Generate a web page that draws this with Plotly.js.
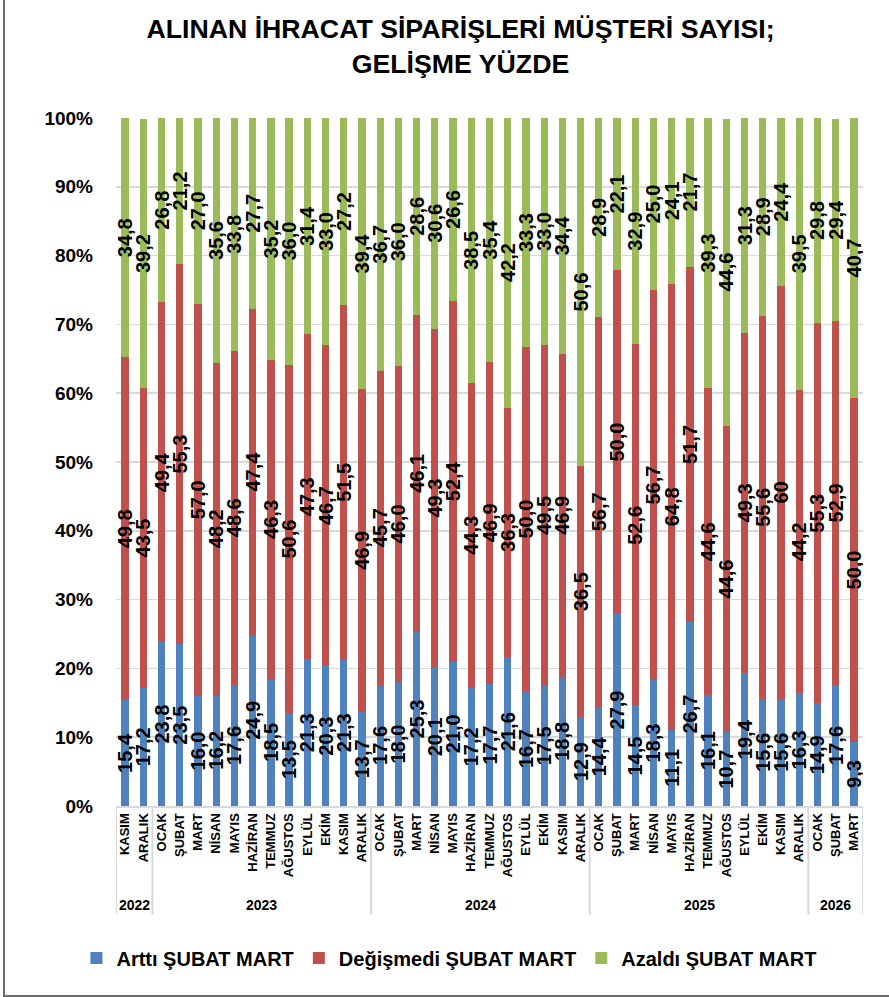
<!DOCTYPE html>
<html>
<head>
<meta charset="utf-8">
<script src="https://cdn.plot.ly/plotly-3.0.1.min.js"></script>
<style>
  html, body { margin: 0; padding: 0; background: #fff; overflow: hidden; }
  #wrap { position: relative; width: 889px; height: 997px; overflow: hidden; }
  #chart { width: 889px; height: 997px; }
  #frame { position: absolute; left: 3px; top: -10px; width: 1000px; height: 1007px;
           box-sizing: border-box; border: 2px solid #6b6b6b; border-right: none; border-top: none;
           pointer-events: none; }
</style>
</head>
<body>
<div id="wrap">
  <div id="chart"></div>
  <div id="frame"></div>
</div>
<script>
// ---- DATA ----
const years = [
  '2022','2022',
  '2023','2023','2023','2023','2023','2023','2023','2023','2023','2023','2023','2023',
  '2024','2024','2024','2024','2024','2024','2024','2024','2024','2024','2024','2024',
  '2025','2025','2025','2025','2025','2025','2025','2025','2025','2025','2025','2025',
  '2026','2026','2026'
];
const months = [
  'KASIM','ARALIK',
  'OCAK','ŞUBAT','MART','NİSAN','MAYIS','HAZİRAN','TEMMUZ','AĞUSTOS','EYLÜL','EKİM','KASIM','ARALIK',
  'OCAK','ŞUBAT','MART','NİSAN','MAYIS','HAZİRAN','TEMMUZ','AĞUSTOS','EYLÜL','EKİM','KASIM','ARALIK',
  'OCAK','ŞUBAT','MART','NİSAN','MAYIS','HAZİRAN','TEMMUZ','AĞUSTOS','EYLÜL','EKİM','KASIM','ARALIK',
  'OCAK','ŞUBAT','MART'
];
const artti = [
  15.4, 17.2,
  23.8, 23.5, 16.0, 16.2, 17.6, 24.9, 18.5, 13.5, 21.3, 20.3, 21.3, 13.7,
  17.6, 18.0, 25.3, 20.1, 21.0, 17.2, 17.7, 21.6, 16.7, 17.5, 18.8, 12.9,
  14.4, 27.9, 14.5, 18.3, 11.1, 26.7, 16.1, 10.7, 19.4, 15.6, 15.6, 16.3,
  14.9, 17.6, 9.3
];
const degismedi = [
  49.8, 43.5,
  49.4, 55.3, 57.0, 48.2, 48.6, 47.4, 46.3, 50.6, 47.3, 46.7, 51.5, 46.9,
  45.7, 46.0, 46.1, 49.3, 52.4, 44.3, 46.9, 36.3, 50.0, 49.5, 46.9, 36.5,
  56.7, 50.0, 52.6, 56.7, 64.8, 51.7, 44.6, 44.6, 49.3, 55.6, 60, 44.2,
  55.3, 52.9, 50.0
];
const azaldi = [
  34.8, 39.2,
  26.8, 21.2, 27.0, 35.6, 33.8, 27.7, 35.2, 36.0, 31.4, 33.0, 27.2, 39.4,
  36.7, 36.0, 28.6, 30.6, 26.6, 38.5, 35.4, 42.2, 33.3, 33.0, 34.4, 50.6,
  28.9, 22.1, 32.9, 25.0, 24.1, 21.7, 39.3, 44.6, 31.3, 28.9, 24.4, 39.5,
  29.8, 29.4, 40.7
];
// labels shown without a decimal in the source chart (index in series)
const integerLabelsDegismedi = [36];
const seriesNames = ['Arttı ŞUBAT MART', 'Değişmedi ŞUBAT MART', 'Azaldı ŞUBAT MART'];
const colors = ['#4F81BD', '#C0504D', '#9BBB59'];

// ---- CHART ----
const FONT = 'Liberation Sans, Arial, sans-serif';
const ids = years.map((y, i) => y + ' ' + months[i]);
function fmt(arr, intIdx) {
  return arr.map((v, i) => (intIdx && intIdx.includes(i)) ? String(v) : v.toFixed(1).replace('.', ','));
}
const series = [
  { y: artti, text: fmt(artti) },
  { y: degismedi, text: fmt(degismedi, integerLabelsDegismedi) },
  { y: azaldi, text: fmt(azaldi) }
];
const traces = series.map((s, k) => ({
  type: 'bar',
  name: seriesNames[k],
  x: ids,
  y: s.y,
  text: s.text,
  texttemplate: '%{text}',
  textposition: 'inside',
  insidetextanchor: 'middle',
  textangle: -90,
  constraintext: 'none',
  insidetextfont: { family: FONT, size: 20, weight: 'bold', color: '#000' },
  marker: { color: colors[k], line: { width: 0 } },
  hoverinfo: 'skip'
}));

// year groups -> dividers and group labels
const groups = [];
years.forEach((y, i) => {
  if (!groups.length || groups[groups.length - 1].year !== y) groups.push({ year: y, first: i, last: i });
  else groups[groups.length - 1].last = i;
});
const DIV_BOTTOM = -0.158;
const shapes = [];
groups.forEach((g, gi) => {
  if (gi === 0) shapes.push({ type: 'line', xref: 'x', yref: 'paper', x0: g.first - 0.5, x1: g.first - 0.5, y0: 0, y1: DIV_BOTTOM, line: { color: '#D9D9D9', width: 2 } });
  shapes.push({ type: 'line', xref: 'x', yref: 'paper', x0: g.last + 0.5, x1: g.last + 0.5, y0: 0, y1: DIV_BOTTOM, line: { color: '#D9D9D9', width: 2 } });
});
const annotations = groups.map(g => ({
  xref: 'x', yref: 'paper',
  x: (g.first + g.last) / 2, y: -0.144,
  text: g.year, showarrow: false,
  xanchor: 'center', yanchor: 'middle',
  font: { family: FONT, size: 14, weight: 'bold', color: '#000' }
}));

const layout = {
  width: 889,
  height: 997,
  paper_bgcolor: '#ffffff',
  plot_bgcolor: '#ffffff',
  margin: { l: 116, r: 26, t: 118, b: 191, autoexpand: false },
  barmode: 'stack',
  bargap: 0.6,
  showlegend: true,
  title: {
    text: 'ALINAN İHRACAT SİPARİŞLERİ MÜŞTERİ SAYISI;<br>GELİŞME YÜZDE',
    font: { family: FONT, size: 26.7, weight: 'bold', color: '#000' },
    x: 0.518, xanchor: 'center', xref: 'container',
    y: 0.962, yanchor: 'top', yref: 'container'
  },
  xaxis: {
    type: 'category',
    tickmode: 'array',
    tickvals: ids,
    ticktext: months,
    tickangle: -90,
    tickfont: { family: FONT, size: 13, weight: 'bold', color: '#000' },
    showline: true,
    linecolor: '#D9D9D9',
    linewidth: 2,
    ticks: '',
    showgrid: false,
    automargin: false,
    range: [-0.5, ids.length - 0.5]
  },
  yaxis: {
    range: [0, 100],
    dtick: 10,
    ticksuffix: '%',
    tickfont: { family: FONT, size: 19, weight: 'bold', color: '#000' },
    gridcolor: '#D9D9D9',
    gridwidth: 1.5,
    zeroline: false,
    showline: false,
    ticks: '',
    automargin: false,
    ticklabelstandoff: 22
  },
  legend: {
    orientation: 'h',
    xref: 'container', yref: 'container',
    x: 0.086, xanchor: 'left',
    y: 0.039, yanchor: 'middle',
    font: { family: FONT, size: 20, weight: 'bold', color: '#000' },
    itemwidth: 30,
    traceorder: 'normal'
  },
  shapes: shapes,
  annotations: annotations
};

Plotly.newPlot('chart', traces, layout, { displayModeBar: false, staticPlot: true });
</script>
</body>
</html>
